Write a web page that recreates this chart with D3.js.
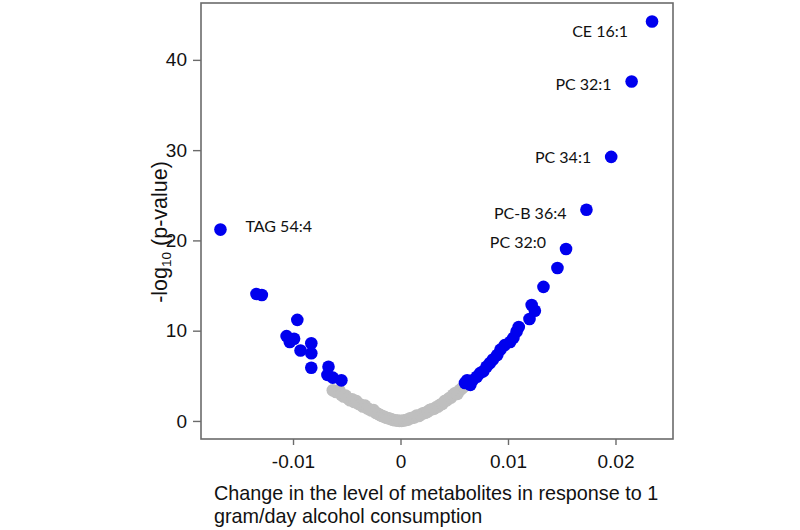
<!DOCTYPE html>
<html>
<head>
<meta charset="utf-8">
<script src="https://cdn.jsdelivr.net/npm/d3@7"></script>
<style>
  html, body { margin: 0; padding: 0; background: #ffffff; }
  svg { display: block; }
</style>
</head>
<body>
<svg id="chart" width="800" height="530"></svg>
<script>
// ---- data ----
const xTicks = [-0.01, 0, 0.01, 0.02];
const xTickLabels = ["-0.01", "0", "0.01", "0.02"];
const yTicks = [0, 10, 20, 30, 40];
const yTickLabels = ["0", "10", "20", "30", "40"];

// significant metabolites (blue): [change, -log10 p]
const sigLeft = [
  [-0.0134, 14.07], [-0.0129, 13.96], [-0.0096, 11.2], [-0.0106, 9.4],
  [-0.0103, 8.75], [-0.0099, 9.1], [-0.0083, 8.6], [-0.0093, 7.8],
  [-0.0083, 7.5], [-0.0083, 5.9], [-0.0067, 6.0], [-0.0068, 5.1],
  [-0.0063, 4.8], [-0.0055, 4.5]
];
const sigRight = [
  [0.0060, 4.2], [0.0065, 4.0], [0.0062, 4.5], [0.0067, 4.5],
  [0.0071, 4.9], [0.0074, 5.3], [0.0077, 5.5], [0.0080, 6.0],
  [0.0083, 6.4], [0.0086, 6.8], [0.0090, 7.3], [0.0093, 7.9],
  [0.0097, 8.4], [0.0102, 8.75], [0.0105, 9.2], [0.0108, 9.9],
  [0.0110, 10.4], [0.0120, 11.3], [0.0125, 12.2], [0.0122, 12.85],
  [0.0133, 14.85], [0.0146, 16.95]
];
// labelled metabolites
const labelNames = ["CE 16:1", "PC 32:1", "PC 34:1", "PC-B 36:4", "PC 32:0", "TAG 54:4"];
const labelX = [0.0234, 0.0215, 0.0196, 0.0173, 0.0154, -0.01675];
const labelY = [44.25, 37.6, 29.25, 23.4, 19.05, 21.2];

// non-significant metabolites (grey)
const nonSig = [
  [-0.0063, 3.4], [-0.0060, 3.2], [-0.0057, 3.4], [-0.0055, 2.9], [-0.0053, 2.7],
  [-0.0051, 2.8], [-0.0049, 2.5], [-0.0047, 2.3], [-0.0045, 2.4], [-0.0043, 2.1],
  [-0.0041, 2.2], [-0.0039, 1.9], [-0.0037, 1.8], [-0.0035, 1.6], [-0.0033, 1.7],
  [-0.0031, 1.4], [-0.0029, 1.3], [-0.0027, 1.15], [-0.0025, 1.2], [-0.0023, 0.9],
  [-0.0021, 0.8], [-0.0019, 0.65], [-0.0017, 0.55], [-0.0015, 0.45], [-0.0013, 0.35],
  [-0.0011, 0.28], [-0.0009, 0.2], [-0.0007, 0.12], [-0.0005, 0.08], [-0.0003, 0.04],
  [-0.0001, 0.01],
  [0.0001, 0.01], [0.0003, 0.05], [0.0005, 0.1], [0.0007, 0.15], [0.0009, 0.3],
  [0.0011, 0.35], [0.0013, 0.4], [0.0015, 0.6], [0.0017, 0.55], [0.0019, 0.7],
  [0.0021, 0.85], [0.0023, 0.9], [0.0025, 1.0], [0.0027, 1.2], [0.0029, 1.3],
  [0.0031, 1.35], [0.0033, 1.5], [0.0035, 1.6], [0.0037, 1.8], [0.0039, 1.9],
  [0.0041, 2.2], [0.0043, 2.3], [0.0045, 2.5], [0.0047, 2.6], [0.0049, 2.9],
  [0.0051, 3.1], [0.0053, 3.0], [0.0055, 3.4], [0.0057, 3.6], [0.0059, 3.8]
];

// ---- layout ----
const svg = d3.select("#chart");
const plot = { left: 201, right: 673, top: 3, bottom: 439 };
const x = d3.scaleLinear().domain([-0.01856, 0.02535]).range([plot.left, plot.right]);
const y = d3.scaleLinear().domain([-2.0, 46.3]).range([plot.bottom, plot.top]);

const tickFont = "'Liberation Sans', Arial, sans-serif";
const annFont = "Lato, 'Open Sans', sans-serif";
const frameColor = "#6b6b6b";
const blue = "#0000ee";
const grey = "#bfbfbf";
const R = 6.3;

// points: grey first, then blue
svg.append("g").selectAll("circle").data(nonSig).join("circle")
  .attr("cx", d => x(d[0])).attr("cy", d => y(d[1])).attr("r", R)
  .attr("fill", grey);

const blues = sigLeft.concat(sigRight).concat(labelX.map((v, i) => [v, labelY[i]]));
svg.append("g").selectAll("circle").data(blues).join("circle")
  .attr("cx", d => x(d[0])).attr("cy", d => y(d[1])).attr("r", R)
  .attr("fill", blue);

// frame
svg.append("rect")
  .attr("x", plot.left).attr("y", plot.top)
  .attr("width", plot.right - plot.left).attr("height", plot.bottom - plot.top)
  .attr("fill", "none").attr("stroke", frameColor).attr("stroke-width", 1.6);

// axes
const xAxis = d3.axisBottom(x).tickValues(xTicks)
  .tickFormat((d, i) => xTickLabels[i]).tickSizeInner(6).tickSizeOuter(0).tickPadding(10);
const gx = svg.append("g").attr("transform", `translate(0,${plot.bottom})`).call(xAxis);
gx.select(".domain").remove();
gx.selectAll("line").attr("stroke", frameColor).attr("stroke-width", 1.4);
gx.selectAll("text").attr("font-family", tickFont).attr("font-size", 19).attr("fill", "#111");

const yAxis = d3.axisLeft(y).tickValues(yTicks)
  .tickFormat((d, i) => yTickLabels[i]).tickSizeInner(8).tickSizeOuter(0).tickPadding(6);
const gy = svg.append("g").attr("transform", `translate(${plot.left},0)`).call(yAxis);
gy.select(".domain").remove();
gy.selectAll("line").attr("stroke", frameColor).attr("stroke-width", 1.4);
gy.selectAll("text").attr("font-family", tickFont).attr("font-size", 19).attr("fill", "#111");

// annotations
const annDx = [-24, -20, -20, -20, -20, 25];
const annAnchor = ["end", "end", "end", "end", "end", "start"];
const annDy = [10, 3, 0, 4, -7, -3];
svg.append("g").selectAll("text").data(labelNames).join("text")
  .attr("x", (d, i) => x(labelX[i]) + annDx[i])
  .attr("y", (d, i) => y(labelY[i]) + annDy[i])
  .attr("dy", "0.35em")
  .attr("text-anchor", (d, i) => annAnchor[i])
  .attr("font-family", annFont).attr("font-size", 16).attr("fill", "#111")
  .text(d => d);

// y axis title
const yt = svg.append("text")
  .attr("transform", "translate(167,232) rotate(-90)")
  .attr("text-anchor", "middle")
  .attr("font-family", tickFont).attr("font-size", 21.5).attr("fill", "#111");
yt.append("tspan").text("-log");
yt.append("tspan").attr("font-size", 13.5).attr("dy", 4).text("10");
yt.append("tspan").attr("dy", -4).text(" (p-value)");

// x axis title
const xt = svg.append("text")
  .attr("font-family", tickFont).attr("font-size", 19.8).attr("fill", "#111");
xt.append("tspan").attr("x", 214).attr("y", 500).text("Change in the level of metabolites in response to 1");
xt.append("tspan").attr("x", 214).attr("y", 523).text("gram/day alcohol consumption");
</script>
</body>
</html>
